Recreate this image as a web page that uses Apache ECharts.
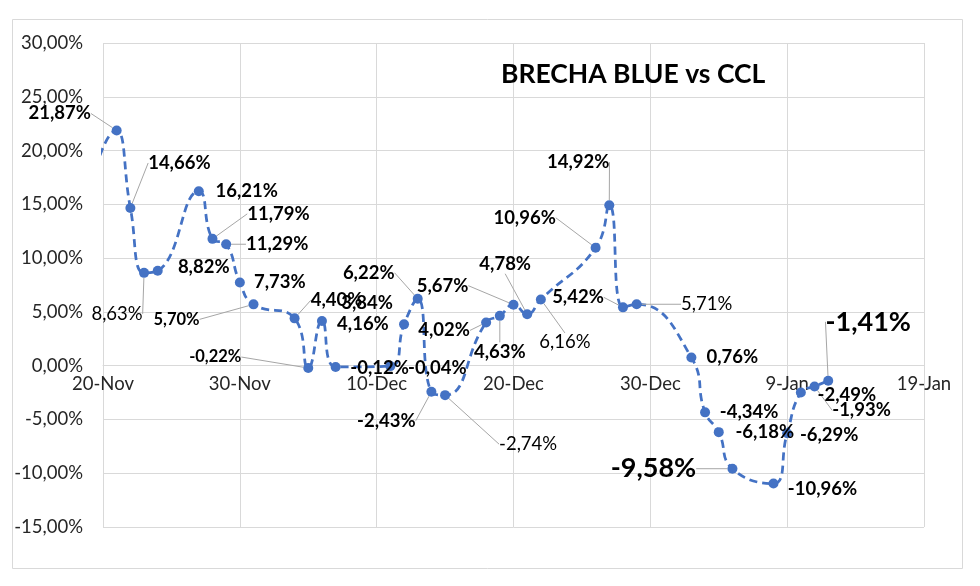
<!DOCTYPE html>
<html>
<head>
<meta charset="utf-8">
<script src="https://cdn.jsdelivr.net/npm/echarts@6/dist/echarts.min.js"></script>
<style>
  html, body { margin: 0; padding: 0; background: #fff; }
  #chart { width: 980px; height: 586px; }
</style>
</head>
<body>
<div id="chart"></div>
<script>
// ---- Data ----
const dates = [
  '2023-11-17', '2023-11-21', '2023-11-22', '2023-11-23', '2023-11-24',
  '2023-11-27', '2023-11-28', '2023-11-29', '2023-11-30', '2023-12-01',
  '2023-12-04', '2023-12-05', '2023-12-06', '2023-12-07', '2023-12-11',
  '2023-12-12', '2023-12-13', '2023-12-14', '2023-12-15', '2023-12-18',
  '2023-12-19', '2023-12-20', '2023-12-21', '2023-12-22', '2023-12-26',
  '2023-12-27', '2023-12-28', '2023-12-29', '2024-01-02', '2024-01-03',
  '2024-01-04', '2024-01-05', '2024-01-08', '2024-01-09', '2024-01-10',
  '2024-01-11', '2024-01-12'
];
const brecha = [
  3.0, 21.87, 14.66, 8.63, 8.82,
  16.21, 11.79, 11.29, 7.73, 5.70,
  4.40, -0.22, 4.16, -0.12, -0.04,
  3.84, 6.22, -2.43, -2.74, 4.02,
  4.63, 5.67, 4.78, 6.16, 10.96,
  14.92, 5.42, 5.71, 0.76, -4.34,
  -6.18, -9.58, -10.96, -6.29, -2.49,
  -1.93, -1.41
];
const xStart = '2023-11-20';
const xEnd = '2024-01-19';
const yTicks = { min: -15, max: 30, step: 5 };
const monthNames = ['Jan','Feb','Mar','Apr','May','Jun','Jul','Aug','Sep','Oct','Nov','Dec'];

// ---- Label layout (style only) ----
// [dx, dy, kind, leaderLine]  kind: b = bold, r = regular, s = small bold, L = large bold
const labelStyle = [
  null, [-57,-17,'b',1], [49,-45,'b',1], [-27,41,'r',1], [46,-4,'b',0],
  [48,0,'b',0], [66,-25,'b',1], [51,0,'b',1], [40,0,'b',0], [-77,15,'s',1],
  [42,-18,'b',1], [-93,-11,'s',1], [41,3,'b',0], [44,1,'b',0], [47,2,'b',0],
  [-37,-21,'b',0], [-49,-26,'b',1], [-45,29,'b',1], [83,49,'r',1], [-42,8,'b',1],
  [0,36,'b',1], [-71,-19,'b',1], [-22,-50,'b',1], [24,43,'r',1], [-71,-30,'b',1],
  [-31,-43,'b',1], [-45,-10,'b',1], [70,0,'r',1], [41,0,'b',0], [44,0,'b',0],
  [46,0,'b',0], [-79,0,'L',1], [49,5,'b',0], [42,2,'b',0], [46,3,'b',0],
  [47,24,'b',1], [40,-59,'L',1]
];
const kinds = {
  b: { fontSize: 18.5, fontWeight: 'bold' },
  r: { fontSize: 18.5, fontWeight: 'normal' },
  s: { fontSize: 16.5, fontWeight: 'bold' },
  L: { fontSize: 27, fontWeight: 'bold' }
};

function toUTC(s) { const p = s.split('-').map(Number); return Date.UTC(p[0], p[1]-1, p[2]); }
const DAY = 86400000;
const t0 = toUTC(xStart);
const dayOf = s => Math.round((toUTC(s) - t0) / DAY);
const fmtPct = v => v.toFixed(2).replace('.', ',') + '%';

const FONT = 'Lato';
const GRID = { left: 103, right: 56, top: 43, bottom: 59 };
const plotHeight = 586 - GRID.top - GRID.bottom;
// move the x axis up to the zero line of the value axis
const zeroOffset = -plotHeight * (0 - yTicks.min) / (yTicks.max - yTicks.min);

const seriesData = dates.map((d, i) => {
  const st = labelStyle[i];
  const item = { value: [dayOf(d), brecha[i]] };
  if (!st) {
    item.label = { show: false };
    item.labelLine = { show: false };
  } else {
    const k = kinds[st[2]];
    item.label = { show: true, fontSize: k.fontSize, fontWeight: k.fontWeight };
    item.labelLine = { show: !!st[3] };
  }
  return item;
});

const chart = echarts.init(document.getElementById('chart'), null, { renderer: 'canvas' });
chart.setOption({
  animation: false,
  backgroundColor: '#ffffff',
  textStyle: { fontFamily: FONT },
  title: {
    text: 'BRECHA BLUE vs CCL',
    left: 496, top: 56,
    textStyle: { fontFamily: FONT, fontSize: 26.5, fontWeight: 'bold', color: '#000' }
  },
  graphic: [{
    type: 'rect', silent: true, z: -10,
    shape: { x: 12.5, y: 19.5, width: 950, height: 549 },
    style: { fill: 'none', stroke: '#d9d9d9', lineWidth: 1 }
  }],
  grid: Object.assign({ containLabel: false }, GRID),
  xAxis: [{
    type: 'value',
    min: 0,
    max: dayOf(xEnd),
    interval: 10,
    position: 'bottom',
    offset: zeroOffset,
    axisLine: { show: true, onZero: false, lineStyle: { color: '#d9d9d9', width: 1 } },
    axisTick: { show: false },
    splitLine: { show: true, lineStyle: { color: '#d9d9d9', width: 1 } },
    axisLabel: {
      margin: 9,
      fontFamily: FONT, fontSize: 18.5, color: '#262626',
      formatter: v => { const d = new Date(t0 + v * DAY); return d.getUTCDate() + '-' + monthNames[d.getUTCMonth()]; }
    }
  }],
  yAxis: {
    type: 'value',
    min: yTicks.min, max: yTicks.max, interval: yTicks.step,
    axisLine: { show: false, onZero: false },
    axisTick: { show: false },
    splitLine: { show: true, lineStyle: { color: '#d9d9d9', width: 1 } },
    axisLabel: { margin: 20, fontFamily: FONT, fontSize: 18.5, color: '#262626', formatter: v => fmtPct(v) }
  },
  series: [{
    type: 'line',
    data: seriesData,
    smooth: 0.5,
    clip: true,
    symbol: 'circle',
    symbolSize: 10,
    itemStyle: { color: '#4472C4' },
    lineStyle: { color: '#4472C4', width: 2.75, type: [8, 5] },
    label: {
      show: true,
      position: 'inside',
      color: '#000',
      fontFamily: FONT,
      formatter: p => fmtPct(p.value[1])
    },
    labelLine: { show: true, lineStyle: { color: '#a6a6a6', width: 1 } },
    labelLayout: p => {
      const st = labelStyle[p.dataIndex];
      if (!st) return {};
      return { dx: st[0], dy: st[1], hideOverlap: false, moveOverlap: false };
    },
    z: 3
  }]
});
</script>
</body>
</html>
